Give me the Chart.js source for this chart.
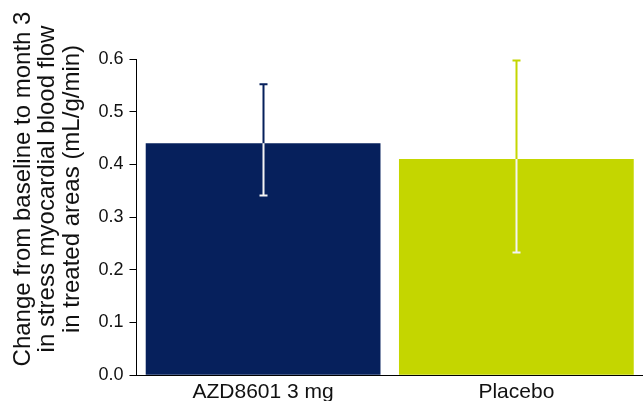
<!DOCTYPE html>
<html>
<head>
<meta charset="utf-8">
<script src="https://cdn.jsdelivr.net/npm/chart.js@4.4.0/dist/chart.umd.min.js"></script>
<style>
  html, body { margin: 0; padding: 0; background: #fff; }
  #wrap { width: 643px; height: 405px; }
</style>
</head>
<body>
<div id="wrap"><canvas id="chart"></canvas></div>
<script>
// Data
const categories = ['AZD8601 3 mg', 'Placebo'];
const meanChange = [0.44, 0.41];
const errLow = [0.341, 0.233];
const errHigh = [0.552, 0.597];
const barColors = ['#06205c', '#c4d600'];
const yTicks = [0.0, 0.1, 0.2, 0.3, 0.4, 0.5, 0.6];
const yTitle = ['Change from baseline to month 3', 'in stress myocardial blood flow', 'in treated areas (mL/g/min)'];

const FONT = 'Liberation Sans, Arial, sans-serif';

// Error bars: bar colour above the bar, white inside it
const errorBars = {
  id: 'errorBars',
  afterDatasetsDraw(chart) {
    const ctx = chart.ctx;
    const y = chart.scales.y;
    const meta = chart.getDatasetMeta(0);
    meta.data.forEach((bar, i) => {
      const x = Math.round(bar.x) + 0.5;
      const top = y.getPixelForValue(errHigh[i]);
      const bot = y.getPixelForValue(errLow[i]);
      const barTop = bar.y;
      const cap = 4;
      ctx.save();
      ctx.lineWidth = 2;
      ctx.strokeStyle = barColors[i];
      ctx.beginPath();
      ctx.moveTo(x, top);
      ctx.lineTo(x, barTop);
      ctx.moveTo(x - cap, top);
      ctx.lineTo(x + cap, top);
      ctx.stroke();
      ctx.strokeStyle = '#f4f4f4';
      ctx.beginPath();
      ctx.moveTo(x, barTop);
      ctx.lineTo(x, bot);
      ctx.moveTo(x - cap, bot);
      ctx.lineTo(x + cap, bot);
      ctx.stroke();
      ctx.restore();
    });
  }
};

// y title sits higher than the axis middle in the original, so draw it here
const sideTitle = {
  id: 'sideTitle',
  afterDraw(chart) {
    const ctx = chart.ctx;
    ctx.save();
    ctx.translate(0, 189);
    ctx.rotate(-Math.PI / 2);
    ctx.fillStyle = '#111';
    ctx.font = '24px ' + FONT;
    ctx.textAlign = 'center';
    ctx.textBaseline = 'middle';
    yTitle.forEach((line, i) => ctx.fillText(line, 0, 23 + i * 24.5));
    ctx.restore();
  }
};

new Chart(document.getElementById('chart'), {
  type: 'bar',
  data: {
    labels: categories,
    datasets: [{
      data: meanChange,
      backgroundColor: barColors,
      borderWidth: 0,
      categoryPercentage: 1.0,
      barPercentage: 0.927
    }]
  },
  options: {
    responsive: true,
    maintainAspectRatio: false,
    animation: false,
    layout: { padding: { top: 59, right: 0, left: 8, bottom: 4 } },
    plugins: {
      legend: { display: false },
      tooltip: { enabled: false }
    },
    scales: {
      x: {
        grid: { display: false },
        border: { display: true, color: '#000', width: 1 },
        ticks: {
          color: '#111',
          font: { family: FONT, size: 21, lineHeight: 0.85 },
          padding: 0
        }
      },
      y: {
        min: 0,
        max: 0.6,
        afterBuildTicks: (axis) => { axis.ticks = yTicks.map(v => ({ value: v })); },
        grid: { drawOnChartArea: false, drawTicks: true, tickLength: 7, color: '#000' },
        border: { display: true, color: '#000', width: 1 },
        ticks: {
          color: '#111',
          padding: 6,
          font: { family: FONT, size: 18 },
          callback: (v) => Number(v).toFixed(1)
        },
        title: {
          display: true,
          text: yTitle,
          color: 'rgba(0,0,0,0)',
          font: { family: FONT, size: 23, lineHeight: 1.05 },
          padding: { top: 0, bottom: 12 }
        }
      }
    }
  },
  plugins: [errorBars, sideTitle]
});
</script>
</body>
</html>
